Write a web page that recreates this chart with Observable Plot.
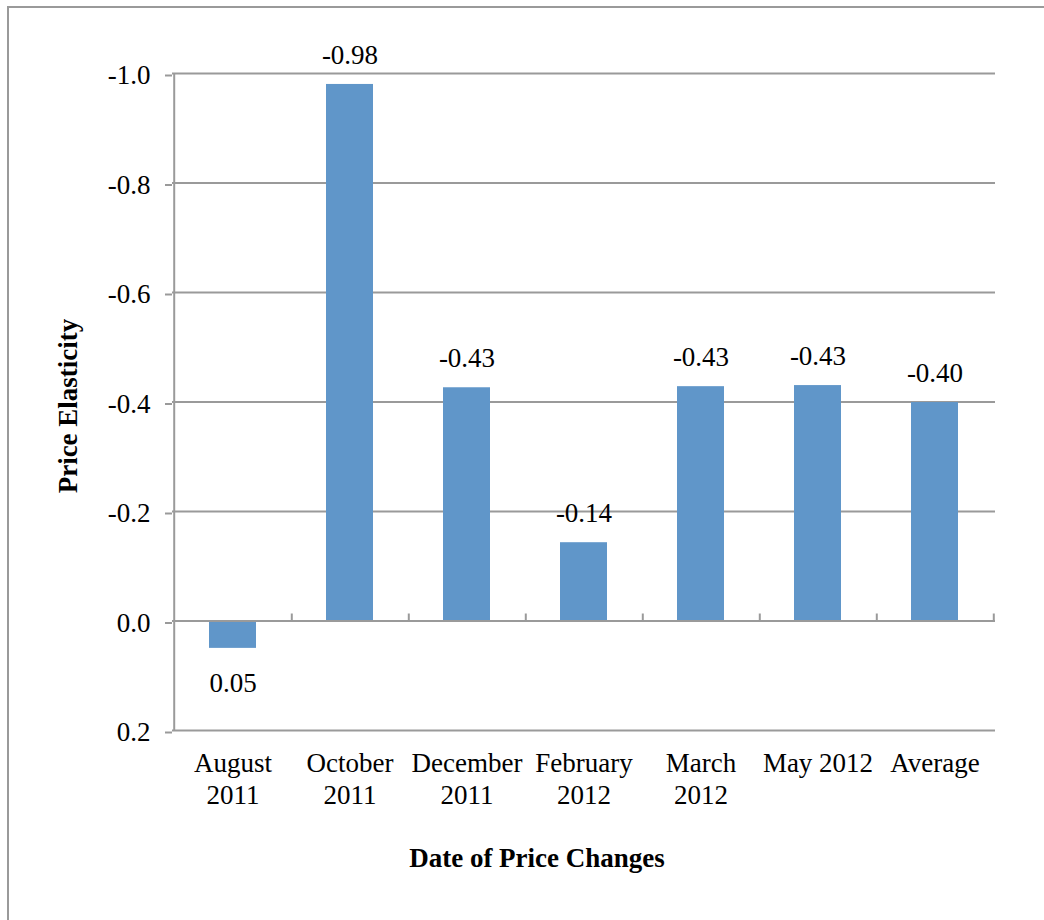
<!DOCTYPE html>
<html><head><meta charset="utf-8">
<script src="https://cdn.jsdelivr.net/npm/d3@7"></script>
<script src="https://cdn.jsdelivr.net/npm/@observablehq/plot@0.6"></script>
<style>
body{margin:0;background:#fff}
#wrap{position:relative;width:1044px;height:920px;overflow:hidden;background:#fff}
#border{position:absolute;left:7px;top:6px;width:1100px;height:1000px;border:2px solid #9a9a9a}
#chart{position:absolute;left:0;top:0}
</style>
</head><body>
<div id="wrap"><div id="border"></div><div id="chart"></div></div>
<script>
const categories = ["August\n2011", "October\n2011", "December\n2011", "February\n2012", "March\n2012", "May 2012", "Average"];
const values = [0.05, -0.98, -0.426, -0.143, -0.428, -0.43, -0.399];
const valueLabels = ["0.05", "-0.98", "-0.43", "-0.14", "-0.43", "-0.43", "-0.40"];
const yTicks = [-1.0, -0.8, -0.6, -0.4, -0.2, 0.0, 0.2];
const yTitle = "Price Elasticity";
const xTitle = "Date of Price Changes";

const data = categories.map((c, i) => ({cat: c, value: values[i], label: valueLabels[i]}));

const W = 1044, H = 920, mL = 172, mR = 49, mT = 73, mB = 190;
const step = (W - mL - mR) / categories.length;
const grid = "#9a9a9a";
const font = "Liberation Serif, Times New Roman, serif";

const chart = Plot.plot({
  width: W, height: H,
  marginLeft: mL, marginRight: mR, marginTop: mT, marginBottom: mB,
  style: {fontFamily: font, fontSize: "27px", color: "#000", background: "transparent"},
  x: {domain: categories, paddingInner: 0.6, paddingOuter: 0.3, label: null},
  y: {domain: [yTicks[0], yTicks[yTicks.length - 1]], reverse: true, label: null},
  marks: [
    Plot.gridY(yTicks, {stroke: grid, strokeOpacity: 1, strokeWidth: 2}),
    Plot.ruleX([categories[0]], {dx: -step / 2, y1: yTicks[0], y2: yTicks[yTicks.length - 1], stroke: grid, strokeWidth: 2}),
    Plot.barY(data, {x: "cat", y1: 0, y2: "value", fill: "#6096c9"}),
    Plot.ruleY([0], {stroke: grid, strokeWidth: 2}),
    Plot.ruleX(categories, {dx: step / 2, y1: 0, y2: 0, insetTop: -7, stroke: grid, strokeWidth: 2}),
    Plot.axisY(yTicks, {tickSize: 7, tickPadding: 15, stroke: grid, strokeWidth: 2, fill: "#000", fontSize: 27, dy: 2, tickFormat: d => d.toFixed(1), label: null}),
    Plot.axisX({tickSize: 0, tickPadding: 18, fill: "#000", fontSize: 27, lineHeight: 1.2, label: null}),
    Plot.text(data.filter(d => d.value < 0), {x: "cat", y: "value", text: "label", dy: -29, fontSize: 27, fill: "#000"}),
    Plot.text(data.filter(d => d.value >= 0), {x: "cat", y: "value", text: "label", dy: 35, fontSize: 27, fill: "#000"}),
    Plot.text([yTitle], {frameAnchor: "left", textAnchor: "middle", rotate: -90, dx: -104, dy: 4, fontWeight: "bold", fontSize: 27, fill: "#000"}),
    Plot.text([xTitle], {frameAnchor: "bottom", dx: -47, dy: 136, fontWeight: "bold", fontSize: 27, fill: "#000"})
  ]
});
document.getElementById("chart").appendChild(chart);
</script>
</body></html>
